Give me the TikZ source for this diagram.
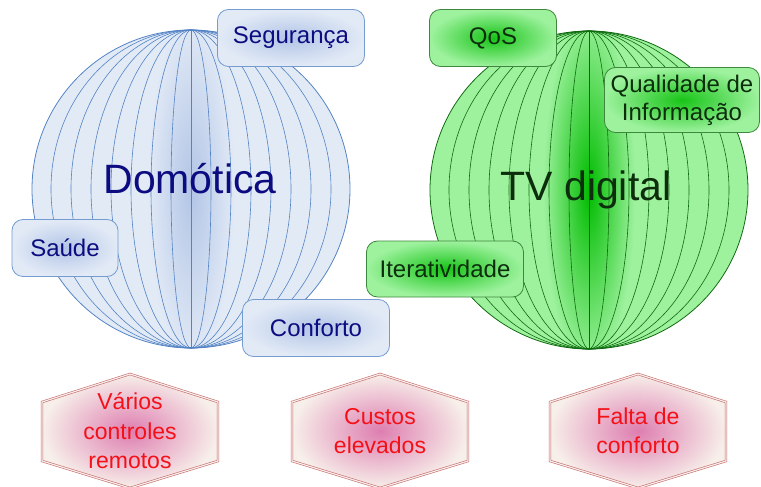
\documentclass[tikz,border=0pt]{standalone}
\usepackage{fontspec}
\setmainfont{Liberation Sans}
\usetikzlibrary{calc}

\definecolor{domfill}{HTML}{E2EAF6}
\definecolor{domglow}{HTML}{B2C5E6}
\definecolor{domline}{HTML}{5383C4}
\definecolor{domtext}{HTML}{0C0C80}
\definecolor{tvfill}{HTML}{9EF29E}
\definecolor{tvglow}{HTML}{00BC00}
\definecolor{tvline}{HTML}{0E6A0E}
\definecolor{tvtext}{HTML}{0C2E0C}
\definecolor{hexfill}{HTML}{F7EFEA}
\definecolor{hexglow}{HTML}{DE7EB0}
\definecolor{hexline}{HTML}{C76A6E}

\tikzset{
  meridian/.style={line width=0.6pt},
  labelbox/.style={rounded corners=11pt, line width=0.8pt, align=center,
    minimum height=57pt, inner sep=2pt,
    font=\fontsize{24}{28}\selectfont},
  bluebox/.style={labelbox, draw=domline!80, inner color=domglow,
    outer color=domfill, text=domtext},
  greenbox/.style={labelbox, draw=tvline!80, inner color=tvglow!85!tvfill,
    outer color=tvfill, text=tvtext},
  hexbox/.style={draw=hexline, double=hexfill, double distance=1.2pt,
    line width=0.6pt, inner color=hexglow, outer color=hexfill},
  hextext/.style={align=center, text={rgb,255:red,245;green,16;blue,24},
    font=\fontsize{23}{29.5}\selectfont}
}

\begin{document}
\begin{tikzpicture}[x=1pt, y=-1pt]
  \useasboundingbox (0,0) rectangle (761,487);
  %centres of the two globes
  \coordinate (dom) at (191,189);
  \coordinate (tv) at (589,190);

  %globe Domotica
  \begin{scope}
    \clip (dom) circle (159);
    \fill[domfill] (dom) circle (159);
    \shade[inner color=domglow, outer color=domfill] (dom) ellipse (44 and 175);
  \end{scope}
  \foreach \k in {1,...,7}
    \draw[domline, meridian] (dom) ellipse ({20*\k} and 159);
  \draw[domline, meridian] ($(dom)+(0,-159)$) -- ($(dom)+(0,159)$);
  \draw[domline, line width=0.8pt] (dom) circle (159);
  \node[text=domtext, font=\fontsize{41}{45}\selectfont] (domlabel)
    at ($(dom)+(-1,-10)$) {Domótica};

  %globe TV digital
  \begin{scope}
    \clip (tv) circle (159);
    \fill[tvfill] (tv) circle (159);
    \shade[inner color=tvglow, outer color=tvfill] (tv) ellipse (46 and 180);
  \end{scope}
  \foreach \k in {1,...,7}
    \draw[tvline, meridian] (tv) ellipse ({20*\k} and 159);
  \draw[tvline, meridian] ($(tv)+(0,-159)$) -- ($(tv)+(0,159)$);
  \draw[tvline, line width=0.8pt] (tv) circle (159);
  \node[text=tvtext, font=\fontsize{41}{45}\selectfont] (tvlabel)
    at ($(tv)+(-3,0)$) {TV digital};

  %labels round Domotica
  \node[bluebox, minimum width=147pt] (seg) at ($(dom)+(100,-151)$) {Segurança};
  \node[bluebox, minimum width=106pt] (saude) at ($(dom)+(-126,59)$) {Saúde};
  \node[bluebox, minimum width=147pt] (conf) at ($(dom)+(125,139)$) {Conforto};

  %labels round TV digital
  \node[greenbox, minimum width=127pt] (qos) at ($(tv)+(-96,-152)$) {QoS};
  \node[greenbox, minimum width=155pt, minimum height=65pt] (qual)
    at ($(tv)+(93,-90)$) {Qualidade de\\Informação};
  \node[greenbox, minimum width=157pt, minimum height=56pt] (iter)
    at ($(tv)+(-144,79)$) {Iteratividade};

  %problems
  \foreach \name/\cx/\txt in {ctrl/130/{Vários\\controles\\remotos},
                              cost/380/{Custos\\elevados},
                              lack/638/{Falta de\\conforto}} {
    \coordinate (\name) at (\cx,431);
    \path[hexbox, shade, draw] ($(\name)+(0,-57)$) -- ($(\name)+(88,-29)$)
      -- ($(\name)+(88,30)$) -- ($(\name)+(0,57)$) -- ($(\name)+(-88,30)$)
      -- ($(\name)+(-88,-29)$) -- cycle;
    \node[hextext] (\name text) at (\name) {\txt};
  }
\end{tikzpicture}
\end{document}
